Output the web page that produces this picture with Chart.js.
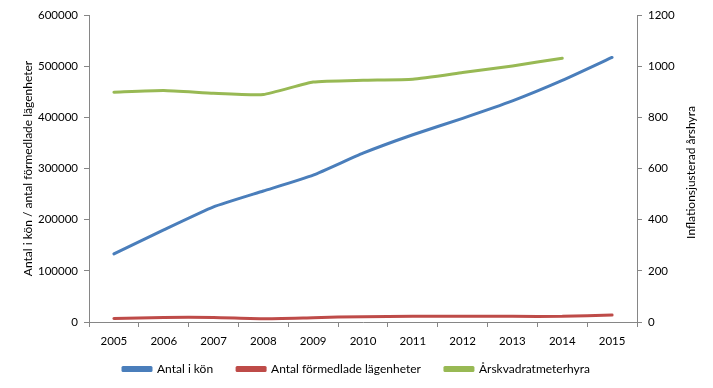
<!DOCTYPE html>
<html>
<head>
<meta charset="utf-8">
<script src="https://cdn.jsdelivr.net/npm/chart.js@4/dist/chart.umd.min.js"></script>
<style>
  html, body { margin: 0; padding: 0; background: #fff; }
  #wrap { width: 713px; height: 388px; position: relative; }
</style>
</head>
<body>
<div id="wrap"><canvas id="c" width="713" height="388"></canvas></div>
<script>
const years = ['2005','2006','2007','2008','2009','2010','2011','2012','2013','2014','2015'];
const antalIKon = [133000, 180000, 225000, 256000, 287000, 330000, 366000, 398000, 432000, 472000, 517000];
const antalFormedlade = [7000, 9000, 9000, 6500, 8500, 10500, 11000, 11000, 11000, 11000, 13500];
const arskvadratmeterhyra = [898, 905, 894, 889, 938, 945, 949, 975, 1001, 1031, null];
const leftTicks = [0, 100000, 200000, 300000, 400000, 500000, 600000];
const rightTicks = [0, 200, 400, 600, 800, 1000, 1200];
const leftTitle = 'Antal i kön / antal förmedlade lägenheter';
const rightTitle = 'Inflationsjusterad årshyra';

const FONT = 'Lato, "Open Sans", sans-serif';
const AXIS = '#868686';

const titlePlugin = {
  id: 'titles',
  afterDraw(chart) {
    const ctx = chart.ctx, a = chart.chartArea;
    const cy = (a.top + a.bottom) / 2;
    ctx.save();
    ctx.fillStyle = '#000';
    ctx.font = '12px ' + FONT;
    ctx.textAlign = 'center';
    ctx.textBaseline = 'middle';
    ctx.translate(28, cy);
    ctx.rotate(-Math.PI / 2);
    ctx.fillText(leftTitle, 0, 0);
    ctx.restore();
    ctx.save();
    ctx.fillStyle = '#000';
    ctx.font = '12px ' + FONT;
    ctx.textAlign = 'center';
    ctx.textBaseline = 'middle';
    ctx.translate(691, cy + 4);
    ctx.rotate(-Math.PI / 2);
    ctx.fillText(rightTitle, 0, 0);
    ctx.restore();
  }
};

new Chart(document.getElementById('c'), {
  type: 'line',
  data: {
    labels: years,
    datasets: [
      { label: 'Antal i kön', data: antalIKon, borderColor: '#4A7EBB', backgroundColor: '#4A7EBB', yAxisID: 'y' },
      { label: 'Antal förmedlade lägenheter', data: antalFormedlade, borderColor: '#BE4B48', backgroundColor: '#BE4B48', yAxisID: 'y' },
      { label: 'Årskvadratmeterhyra', data: arskvadratmeterhyra, borderColor: '#98B954', backgroundColor: '#98B954', yAxisID: 'y2' }
    ]
  },
  options: {
    responsive: false,
    animation: false,
    devicePixelRatio: 1,
    elements: {
      point: { radius: 0, hoverRadius: 0 },
      line: { borderWidth: 3, tension: 0.15, borderCapStyle: 'round', borderJoinStyle: 'round' }
    },
    layout: { padding: { top: 15, left: 0, right: 0, bottom: 3 } },
    plugins: {
      tooltip: { enabled: false },
      legend: {
        position: 'bottom',
        labels: {
          font: { family: FONT, size: 12 },
          color: '#000',
          boxWidth: 28,
          boxHeight: 3,
          padding: 24
        }
      }
    },
    scales: {
      x: {
        offset: true,
        grid: { display: true, drawOnChartArea: false, drawTicks: true, tickLength: 5, color: AXIS, offset: true },
        border: { color: AXIS, width: 1 },
        ticks: { font: { family: FONT, size: 11.5 }, color: '#000', padding: 7, maxRotation: 0 },
        afterFit(s) { s.height = 17; s._computeLabelArea = () => undefined; }
      },
      y: {
        position: 'left',
        min: 0, max: 600000,
        afterBuildTicks(s) { s.ticks = leftTicks.map(v => ({ value: v })); },
        grid: { display: true, drawOnChartArea: false, drawTicks: true, tickLength: 5, color: AXIS },
        border: { color: AXIS, width: 1 },
        ticks: { font: { family: FONT, size: 11.5 }, color: '#000', padding: 6, callback: v => String(v) },
        afterFit(s) { s.width = 89; }
      },
      y2: {
        position: 'right',
        min: 0, max: 1200,
        afterBuildTicks(s) { s.ticks = rightTicks.map(v => ({ value: v })); },
        grid: { display: true, drawOnChartArea: false, drawTicks: true, tickLength: 5, color: AXIS },
        border: { color: AXIS, width: 1 },
        ticks: { font: { family: FONT, size: 11.5 }, color: '#000', padding: 6, callback: v => String(v) },
        afterFit(s) { s.width = 76; }
      }
    }
  },
  plugins: [titlePlugin]
});
</script>
</body>
</html>
